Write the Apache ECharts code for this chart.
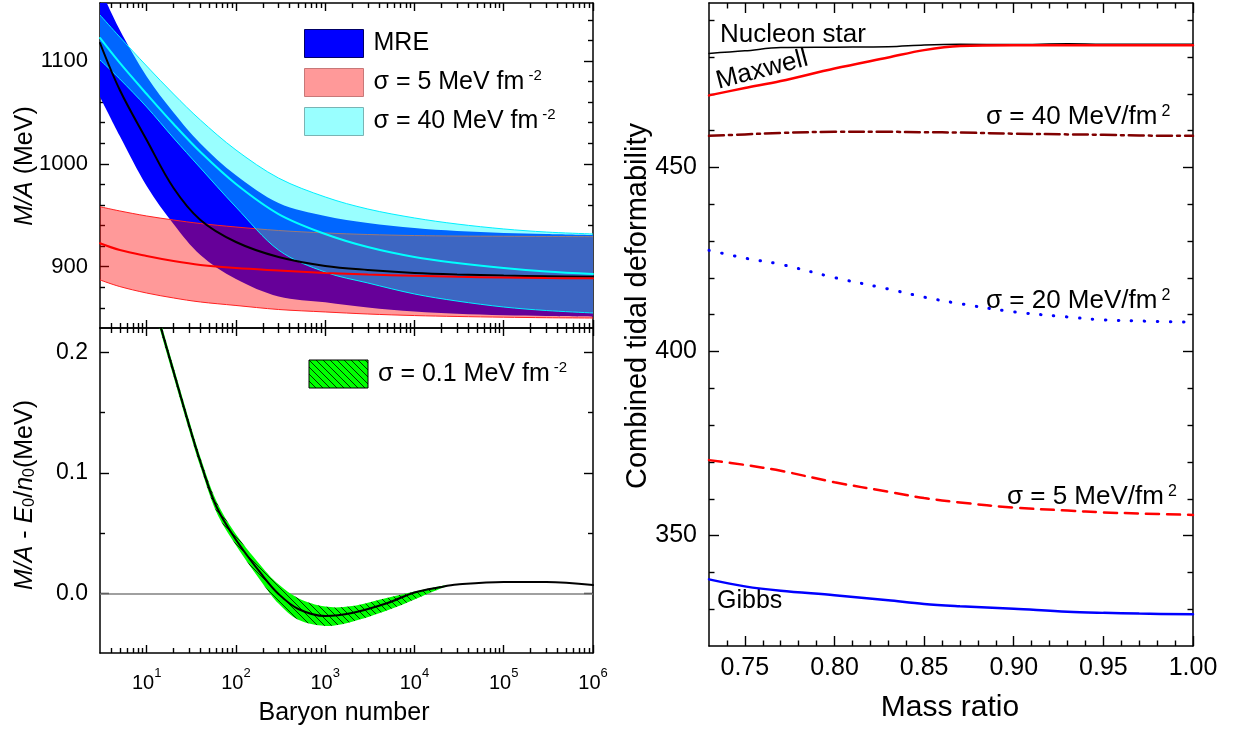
<!DOCTYPE html>
<html>
<head>
<meta charset="utf-8">
<title>Baryon number and tidal deformability</title>
<script src="https://cdn.jsdelivr.net/npm/echarts@6/dist/echarts.min.js"></script>
<style>
    html, body { margin: 0; padding: 0; background: #fff; }
    #main { width: 1233px; height: 731px; }
</style>
</head>
<body>
<div id="main"></div>
<script>
var FONT = '"Liberation Sans", Arial, Helvetica, sans-serif';

// ---- top left: M/A (MeV) against baryon number ----
var baryonNum = [3, 5, 10, 20, 40, 100, 300, 1000, 3000, 1e4, 3e4, 1e5, 3e5, 1e6];
var mreUpper  = [1171.0, 1130.1, 1085.0, 1050.0, 1019.9, 988.9, 961.9, 949.2, 942.5, 937.6, 934.7, 932.8, 931.8, 930.8];
var mreMid    = [1117.5, 1071.8, 1023.2, 976.5, 945.4, 924.0, 909.4, 900.7, 896.8, 893.9, 892.4, 891.4, 890.8, 890.3];
var mreLower  = [1065.0, 1027.1, 978.5, 941.5, 911.4, 888.0, 871.0, 865.4, 860.3, 856.4, 854.2, 852.7, 852.0, 851.4];
var s5Upper   = [958.3, 954.2, 949.3, 945.4, 942.0, 938.6, 935.2, 932.8, 931.3, 930.3, 929.8, 929.6, 929.4, 929.2];
var s5Mid     = [922.8, 916.2, 910.4, 905.5, 901.7, 898.7, 896.3, 893.9, 892.4, 891.2, 890.2, 889.5, 889.0, 888.7];
var s5Lower   = [887.1, 880.7, 874.4, 869.6, 865.7, 862.3, 858.4, 856.0, 854.0, 852.5, 851.6, 850.9, 850.4, 850.1];
var s40Upper  = [1144.7, 1123.3, 1095.1, 1067.9, 1042.6, 1013.5, 986.2, 967.8, 956.1, 947.4, 941.5, 936.7, 933.7, 931.8];
var s40Mid    = [1122.4, 1098.1, 1067.9, 1038.7, 1011.5, 980.4, 951.2, 931.8, 919.1, 909.4, 903.6, 898.7, 895.3, 892.9];
var s40Lower  = [1101.0, 1082.5, 1055.3, 1025.1, 996.0, 958.0, 916.2, 894.8, 884.2, 873.5, 866.6, 860.8, 857.4, 855.0];

// ---- bottom left: M/A - E0/n0 (MeV) ----
var baryonNumB = [10, 15, 20, 30, 40, 60, 100, 200, 300, 500, 1000, 2000, 5000, 1e4, 2e4, 3e4, 1e5, 3e5, 1e6];
var dMass      = [0.262, 0.216, 0.184, 0.139, 0.109, 0.0725, 0.0445, 0.0145, -0.0005, -0.013, -0.0188, -0.0163, -0.008, 0.0007, 0.0053, 0.0073, 0.0095, 0.0094, 0.0069];
var baryonNumG = [10, 15, 20, 30, 40, 60, 100, 200, 300, 500, 1000, 2000, 5000, 1e4, 2e4, 2.5e4];
var dMassUpper = [0.266, 0.220, 0.188, 0.143, 0.113, 0.077, 0.049, 0.021, 0.0075, -0.004, -0.011, -0.0105, -0.0036, 0.0015, 0.0062, 0.0068];
var dMassLower = [0.258, 0.212, 0.180, 0.135, 0.105, 0.068, 0.040, 0.008, -0.0085, -0.022, -0.027, -0.0235, -0.014, -0.005, 0.0042, 0.0066];

// ---- right: combined tidal deformability against mass ratio ----
var massRatio  = [0.73, 0.75, 0.77, 0.80, 0.83, 0.85, 0.87, 0.90, 0.93, 0.95, 0.97, 1.00];
var lamNucleon = [481.0, 481.7, 482.6, 482.7, 482.8, 483.3, 483.5, 483.4, 483.6, 483.5, 483.5, 483.5];
var lamMaxwell = [469.6, 471.6, 473.5, 476.9, 479.9, 481.9, 483.0, 483.2, 483.2, 483.2, 483.2, 483.2];
var lamS40     = [458.6, 459.0, 459.4, 459.7, 459.7, 459.6, 459.5, 459.2, 459.0, 458.9, 458.7, 458.6];
var lamS20     = [427.5, 425.4, 423.7, 420.1, 417.0, 414.8, 413.0, 410.8, 409.4, 408.6, 408.3, 408.0];
var lamS5      = [370.5, 369.2, 367.6, 364.5, 361.9, 360.2, 359.0, 357.6, 356.8, 356.3, 356.0, 355.6];
var lamGibbs   = [338.1, 336.2, 335.0, 333.8, 332.4, 331.4, 330.8, 330.1, 329.3, 329.0, 328.8, 328.6];

// ---- ticks ----
var decades = [1, 2, 3, 4, 5, 6];   // exponent of 10
var baryonMinor = [4, 5, 6, 7, 8, 9, 20, 30, 40, 50, 60, 70, 80, 90, 200, 300, 400, 500, 600, 700, 800, 900,
    2000, 3000, 4000, 5000, 6000, 7000, 8000, 9000, 2e4, 3e4, 4e4, 5e4, 6e4, 7e4, 8e4, 9e4,
    2e5, 3e5, 4e5, 5e5, 6e5, 7e5, 8e5, 9e5];
var massTicks = [900, 1000, 1100];
var massMinor = [860, 880, 920, 940, 960, 980, 1020, 1040, 1060, 1080, 1120, 1140];
var dmTicks = [0, 0.1, 0.2];
var dmMinor = [0.05, 0.15];
var ratioTicks = [0.75, 0.80, 0.85, 0.90, 0.95, 1.00];
var ratioMinor = [0.74, 0.76, 0.77, 0.78, 0.79, 0.81, 0.82, 0.83, 0.84, 0.86, 0.87, 0.88, 0.89,
    0.91, 0.92, 0.93, 0.94, 0.96, 0.97, 0.98, 0.99];
var lamTicks = [350, 400, 450];
var lamMinor = [330, 340, 360, 370, 380, 390, 410, 420, 430, 440, 460, 470, 480, 490];

var baryonRange = [3, 1e6];
var logRange = [Math.log10(3), 6];
var massRange = [840.4, 1156.4];
var dmRange = [-0.0495, 0.2202];
var ratioRange = [0.73, 1.00];
var lamRange = [320, 494.7];

function pairs(xs, ys) {
    return xs.map(function (x, i) { return [x, ys[i]]; });
}

function makeHatch() {
    var c = document.createElement('canvas');
    c.width = 7; c.height = 7;
    var ctx = c.getContext('2d');
    ctx.fillStyle = '#00ff00';
    ctx.fillRect(0, 0, 7, 7);
    ctx.strokeStyle = '#000';
    ctx.lineWidth = 0.8;
    ctx.beginPath();
    ctx.moveTo(-1, -1); ctx.lineTo(8, 8);
    ctx.moveTo(-1, 6); ctx.lineTo(1, 8);
    ctx.moveTo(6, -1); ctx.lineTo(8, 1);
    ctx.stroke();
    return c;
}
var hatch = {image: makeHatch(), repeat: 'repeat'};

// catmull-rom through pixel points, as svg path commands
function smoothPath(pts, cmd) {
    var s = cmd + pts[0][0] + ',' + pts[0][1];
    for (var i = 0; i < pts.length - 1; i++) {
        var p0 = pts[i - 1] || pts[i], p1 = pts[i], p2 = pts[i + 1], p3 = pts[i + 2] || p2;
        s += ' C' + (p1[0] + (p2[0] - p0[0]) / 6) + ',' + (p1[1] + (p2[1] - p0[1]) / 6) +
            ' ' + (p2[0] - (p3[0] - p1[0]) / 6) + ',' + (p2[1] - (p3[1] - p1[1]) / 6) +
            ' ' + p2[0] + ',' + p2[1];
    }
    return s;
}
function coords(api, xs, ys) {
    return xs.map(function (x, i) { return api.coord([x, ys[i]]); });
}

// filled band between lo and hi, drawn once as one shape
function band(name, xIdx, yIdx, xs, lo, hi, fill, edge) {
    return {
        name: name, type: 'custom', xAxisIndex: xIdx, yAxisIndex: yIdx, clip: true, silent: true,
        data: xs.map(function (x, i) { return [x, lo[i], hi[i]]; }),
        encode: {x: 0, y: [1, 2]},
        renderItem: function (params, api) {
            if (params.dataIndex !== 0) return null;
            var top = coords(api, xs, hi);
            var bot = coords(api, xs, lo);
            var kids = [{
                type: 'path',
                shape: {pathData: smoothPath(top, 'M') + ' ' + smoothPath(bot.slice().reverse(), 'L') + ' Z'},
                style: {fill: fill, stroke: null}
            }];
            if (edge) {
                kids.push({type: 'path', shape: {pathData: smoothPath(top, 'M')},
                    style: {fill: null, stroke: edge, lineWidth: 1}});
                kids.push({type: 'path', shape: {pathData: smoothPath(bot, 'M')},
                    style: {fill: null, stroke: edge, lineWidth: 1}});
            }
            return {type: 'group', children: kids};
        }
    };
}
function curve(name, xIdx, yIdx, xs, ys, color, width, type) {
    return {
        name: name, type: 'line', xAxisIndex: xIdx, yAxisIndex: yIdx,
        data: pairs(xs, ys), smooth: 0.35, showSymbol: false, silent: true,
        lineStyle: {color: color, width: width, type: type || 'solid', cap: 'round'}
    };
}

// tick-only axis; major and minor ticks are two axes on the same side
function tickAxis(grid, pos, range, values, len, showLine, label) {
    return {
        type: 'value', gridIndex: grid, position: pos, min: range[0], max: range[1],
        axisLine: {show: showLine, onZero: false, lineStyle: {color: '#000', width: 1.5}},
        axisTick: {show: true, inside: true, length: len, customValues: values,
            lineStyle: {color: '#000', width: 1.4}},
        axisLabel: label || {show: false},
        splitLine: {show: false}
    };
}
function numLabel(values, size, margin, fmt) {
    return {show: true, customValues: values, margin: margin, color: '#000',
        fontFamily: FONT, fontSize: size, formatter: fmt};
}

var logMinor = baryonMinor.map(function (v) { return Math.log10(v); });
var baryonLabel = {
    show: true, customValues: decades, margin: 14, color: '#000', fontFamily: FONT, fontSize: 20,
    formatter: function (v) { return '{b|10}{e|' + Math.round(v) + '}'; },
    rich: {
        b: {fontSize: 20, fontFamily: FONT, color: '#000', lineHeight: 26, verticalAlign: 'bottom'},
        e: {fontSize: 13, fontFamily: FONT, color: '#000', lineHeight: 14, verticalAlign: 'top'}
    }
};

var dMassLine = curve('dMass', 1, 1, baryonNumB, dMass, '#000', 2);
dMassLine.z = 3;
dMassLine.markLine = {
    silent: true, symbol: ['none', 'none'], z: 1, label: {show: false},
    lineStyle: {color: '#808080', width: 1.5, type: 'solid'},
    data: [{yAxis: 0}]
};

var series = [
    band('MRE', 0, 0, baryonNum, mreLower, mreUpper, '#0000ff', null),
    curve('mreMid', 0, 0, baryonNum, mreMid, '#000', 2),
    band('sigma5', 0, 0, baryonNum, s5Lower, s5Upper, 'rgba(255,0,0,0.4)', '#ff2020'),
    curve('s5Mid', 0, 0, baryonNum, s5Mid, '#ff0000', 2),
    band('sigma40', 0, 0, baryonNum, s40Lower, s40Upper, 'rgba(0,255,255,0.4)', '#00f0ff'),
    curve('s40Mid', 0, 0, baryonNum, s40Mid, '#00ffff', 2),

    band('sigma01', 1, 1, baryonNumG, dMassLower, dMassUpper, hatch, null),
    dMassLine,

    curve('Nucleon star', 2, 2, massRatio, lamNucleon, '#000', 1.5),
    curve('Maxwell', 2, 2, massRatio, lamMaxwell, '#ff0000', 2.5),
    curve('s40', 2, 2, massRatio, lamS40, '#800000', 2.5, [15, 5, 3, 5]),
    curve('s20', 2, 2, massRatio, lamS20, '#0000ff', 3, [0.5, 12.5]),
    curve('s5', 2, 2, massRatio, lamS5, '#ff0000', 2.5, [13, 8]),
    curve('Gibbs', 2, 2, massRatio, lamGibbs, '#0000ff', 2.5)
];

var legendText = {
    'MRE': '{t|MRE}',
    'sigma5': '{t|σ = 5 MeV fm}{s|-2}',
    'sigma40': '{t|σ = 40 MeV fm}{s|-2}',
    'sigma01': '{t|σ = 0.1 MeV fm}{s|-2}'
};
var legendRich = {
    t: {fontSize: 25, fontFamily: FONT, color: '#000', lineHeight: 28},
    s: {fontSize: 15, fontFamily: FONT, color: '#000', verticalAlign: 'top', padding: [0, 0, 0, 4]}
};
function legendBox(left, top, data) {
    return {
        left: left, top: top, orient: 'vertical', padding: 0,
        itemWidth: 59, itemHeight: 28, itemGap: 10, icon: 'rect', symbolKeepAspect: false,
        selectedMode: false, data: data,
        formatter: function (name) { return legendText[name]; },
        textStyle: {color: '#000', fontSize: 25, fontFamily: FONT, padding: [0, 0, 0, 5], rich: legendRich}
    };
}

function text(x, y, str, size, extra) {
    var el = {
        type: 'text', x: x, y: y, silent: true,
        style: {
            text: str, fill: '#000', fontSize: size, fontFamily: FONT,
            align: 'left', verticalAlign: 'middle',
            rich: {
                i: {fontStyle: 'italic', fontSize: size, fontFamily: FONT},
                sub: {fontSize: Math.round(size * 0.62), fontFamily: FONT, verticalAlign: 'bottom'},
                sup: {fontSize: Math.round(size * 0.62), fontFamily: FONT, verticalAlign: 'top', padding: [0, 0, 0, 4]}
            }
        }
    };
    if (extra) {
        if (extra.rotation) el.rotation = extra.rotation;
        if (extra.align) el.style.align = extra.align;
    }
    return el;
}

var option = {
    animation: false,
    backgroundColor: '#fff',
    grid: [
        {left: 100, top: 3, width: 493, height: 325},
        {left: 100, top: 328, width: 493, height: 325},
        {left: 709, top: 3, width: 484, height: 643}
    ],
    xAxis: [
        {type: 'log', logBase: 10, gridIndex: 0, min: baryonRange[0], max: baryonRange[1], show: false},
        {type: 'log', logBase: 10, gridIndex: 1, min: baryonRange[0], max: baryonRange[1], show: false},
        tickAxis(2, 'bottom', ratioRange, ratioTicks, 10, true,
            numLabel(ratioTicks, 25, 10, function (v) { return v.toFixed(2); })),
        tickAxis(2, 'bottom', ratioRange, ratioMinor, 5.5, false),
        tickAxis(2, 'top', ratioRange, ratioTicks, 10, true),
        tickAxis(2, 'top', ratioRange, ratioMinor, 5.5, false),
        tickAxis(0, 'bottom', logRange, decades, 8, true),
        tickAxis(0, 'bottom', logRange, logMinor, 5, false),
        tickAxis(0, 'top', logRange, decades, 8, true),
        tickAxis(0, 'top', logRange, logMinor, 5, false),
        tickAxis(1, 'bottom', logRange, decades, 8, true, baryonLabel),
        tickAxis(1, 'bottom', logRange, logMinor, 5, false),
        tickAxis(1, 'top', logRange, decades, 8, true),
        tickAxis(1, 'top', logRange, logMinor, 5, false)
    ],
    yAxis: [
        tickAxis(0, 'left', massRange, massTicks, 9, true, numLabel(massTicks, 22, 12, function (v) { return String(v); })),
        tickAxis(1, 'left', dmRange, dmTicks, 9, true, numLabel(dmTicks, 23, 12, function (v) { return v.toFixed(1); })),
        tickAxis(2, 'left', lamRange, lamTicks, 10, true, numLabel(lamTicks, 25, 12, function (v) { return String(v); })),
        tickAxis(0, 'left', massRange, massMinor, 5, false),
        tickAxis(0, 'right', massRange, massTicks, 9, true),
        tickAxis(0, 'right', massRange, massMinor, 5, false),
        tickAxis(1, 'left', dmRange, dmMinor, 5, false),
        tickAxis(1, 'right', dmRange, dmTicks, 9, true),
        tickAxis(1, 'right', dmRange, dmMinor, 5, false),
        tickAxis(2, 'left', lamRange, lamMinor, 5.5, false),
        tickAxis(2, 'right', lamRange, lamTicks, 10, true),
        tickAxis(2, 'right', lamRange, lamMinor, 5.5, false)
    ],
    legend: [
        legendBox(304, 29, [
            {name: 'MRE', itemStyle: {color: '#0000ff', borderColor: '#000066', borderWidth: 1}},
            {name: 'sigma5', itemStyle: {color: '#ff9999', borderColor: '#c87878', borderWidth: 1}},
            {name: 'sigma40', itemStyle: {color: '#99ffff', borderColor: '#7ab4b4', borderWidth: 1}}
        ]),
        legendBox(309, 360, [
            {name: 'sigma01', itemStyle: {color: 'rgba(0,0,0,0)', borderWidth: 0}}
        ])
    ],
    graphic: [
        // hatched key for the sigma = 0.1 band
        {type: 'rect', x: 309, y: 360, z: 100, silent: true, shape: {width: 59, height: 28},
            style: {fill: hatch, stroke: '#000', lineWidth: 1}},
        text(25, 166, '{i|M/A} (MeV)', 25, {rotation: Math.PI / 2, align: 'center'}),
        text(25, 495, '{i|M/A} - {i|E}{sub|0}/{i|n}{sub|0}(MeV)', 25, {rotation: Math.PI / 2, align: 'center'}),
        text(344, 713, 'Baryon number', 25, {align: 'center'}),
        text(638, 306, 'Combined tidal deformability', 29, {rotation: Math.PI / 2, align: 'center'}),
        text(950, 708, 'Mass ratio', 30, {align: 'center'}),
        text(720, 35, 'Nucleon star', 26),
        text(762, 70, 'Maxwell', 26, {rotation: 0.256, align: 'center'}),
        text(986, 117, 'σ = 40 MeV/fm{sup|2}', 26),
        text(986, 301, 'σ = 20 MeV/fm{sup|2}', 26),
        text(1007, 497, 'σ = 5 MeV/fm{sup|2}', 26),
        text(717, 601, 'Gibbs', 25)
    ],
    series: series
};

var chart = echarts.init(document.getElementById('main'));
chart.setOption(option);
</script>
</body>
</html>
